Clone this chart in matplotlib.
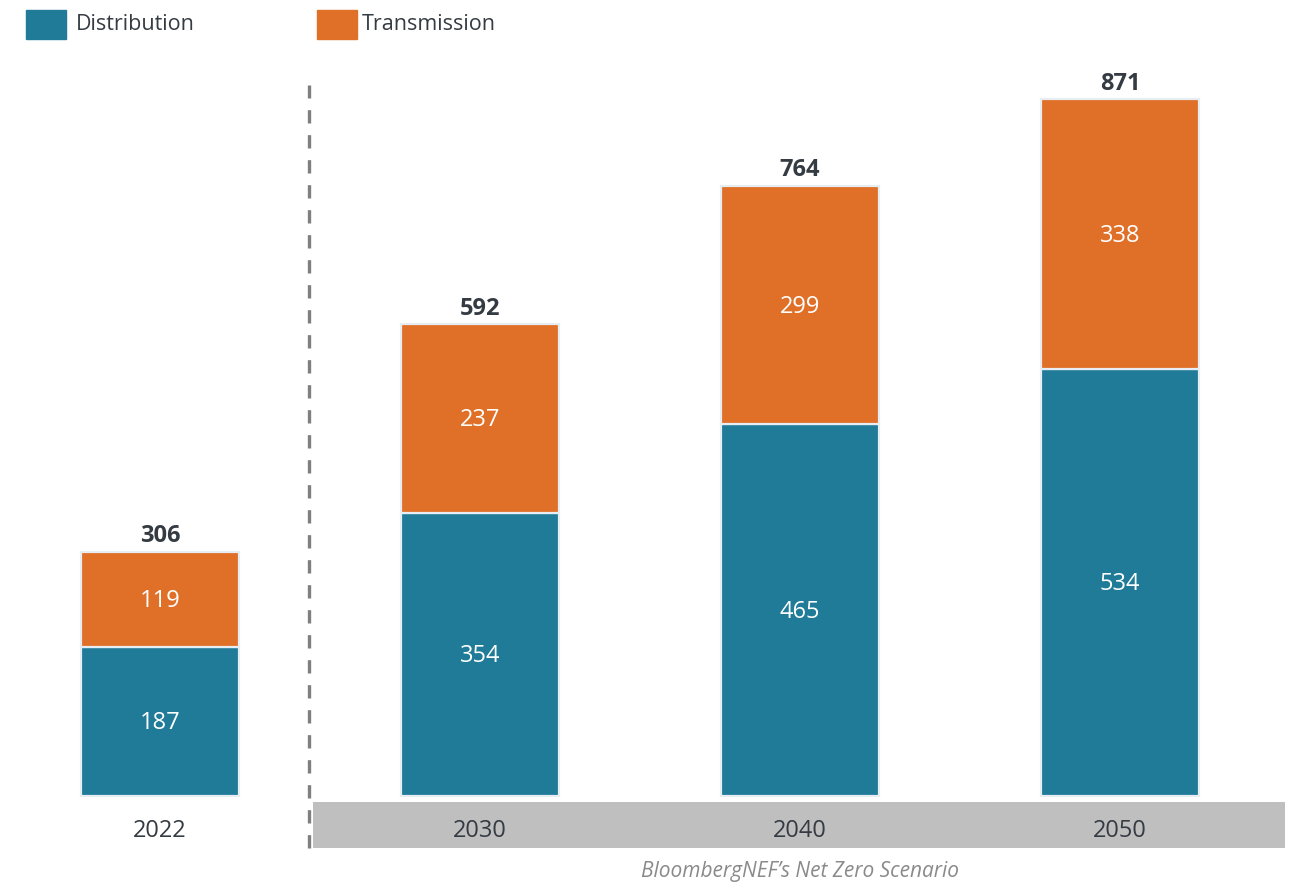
import matplotlib.pyplot as plt
from matplotlib.patches import Rectangle

years = ["2022", "2030", "2040", "2050"]
distribution = [187, 354, 465, 534]
transmission = [119, 237, 299, 338]
totals = [306, 592, 764, 871]

teal = "#1f7b97"
orange = "#e07028"
ink = "#353b42"

plt.rcParams["font.family"] = ["Open Sans", "DejaVu Sans"]

fig = plt.figure(figsize=(12.95, 8.84), dpi=100)
ax = fig.add_axes([0, 0, 1, 1])
ax.set_xlim(-0.5, 3.547)
ax.set_ylim(-110.1, 996.2)
ax.axis("off")

x = range(len(years))
w = 0.495
ax.bar(x, distribution, w, color=teal, edgecolor="#e6eef3", linewidth=1.6, zorder=3)
ax.bar(x, transmission, w, bottom=distribution, color=orange,
       edgecolor="#e6eef3", linewidth=1.6, zorder=3)

for i in x:
    ax.text(i, distribution[i] / 2 - 2, str(distribution[i]), ha="center", va="center",
            color="white", fontsize=17, zorder=4)
    ax.text(i, distribution[i] + transmission[i] / 2 - 2, str(transmission[i]),
            ha="center", va="center", color="white", fontsize=17, zorder=4)
    ax.text(i, distribution[i] + transmission[i] + 4, str(totals[i]), ha="center",
            va="bottom", color=ink, fontsize=17, fontweight="bold", zorder=4)

# grey band under the scenario years
ax.add_patch(Rectangle((0.478, -65.1), 3.516 - 0.478, 57.6, color="#bfbfbf",
                       linewidth=0, zorder=1))
for i in x:
    ax.text(i, -44, years[i], ha="center", va="center", color=ink, fontsize=17, zorder=4)

# separator between actual and projected years
ax.plot([0.466, 0.466], [-65, 890], color="#7f7f7f", linewidth=2.4,
        linestyle=(0, (4, 3.5)), zorder=2)

ax.text(2, -94, "BloombergNEF\u2019s Net Zero Scenario", ha="center", va="center",
        color="#8a8a8a", fontsize=15, style="italic")

# legend
fig.patches.append(Rectangle((26 / 1295, 1 - 39 / 884), 40 / 1295, 29 / 884,
                             transform=fig.transFigure, color=teal))
fig.text(76 / 1295, 1 - 25 / 884, "Distribution", ha="left", va="center",
         color=ink, fontsize=15.5)
fig.patches.append(Rectangle((317 / 1295, 1 - 39 / 884), 40 / 1295, 29 / 884,
                             transform=fig.transFigure, color=orange))
fig.text(362 / 1295, 1 - 25 / 884, "Transmission", ha="left", va="center",
         color=ink, fontsize=15.5)

fig.savefig("out.png", dpi=100)
